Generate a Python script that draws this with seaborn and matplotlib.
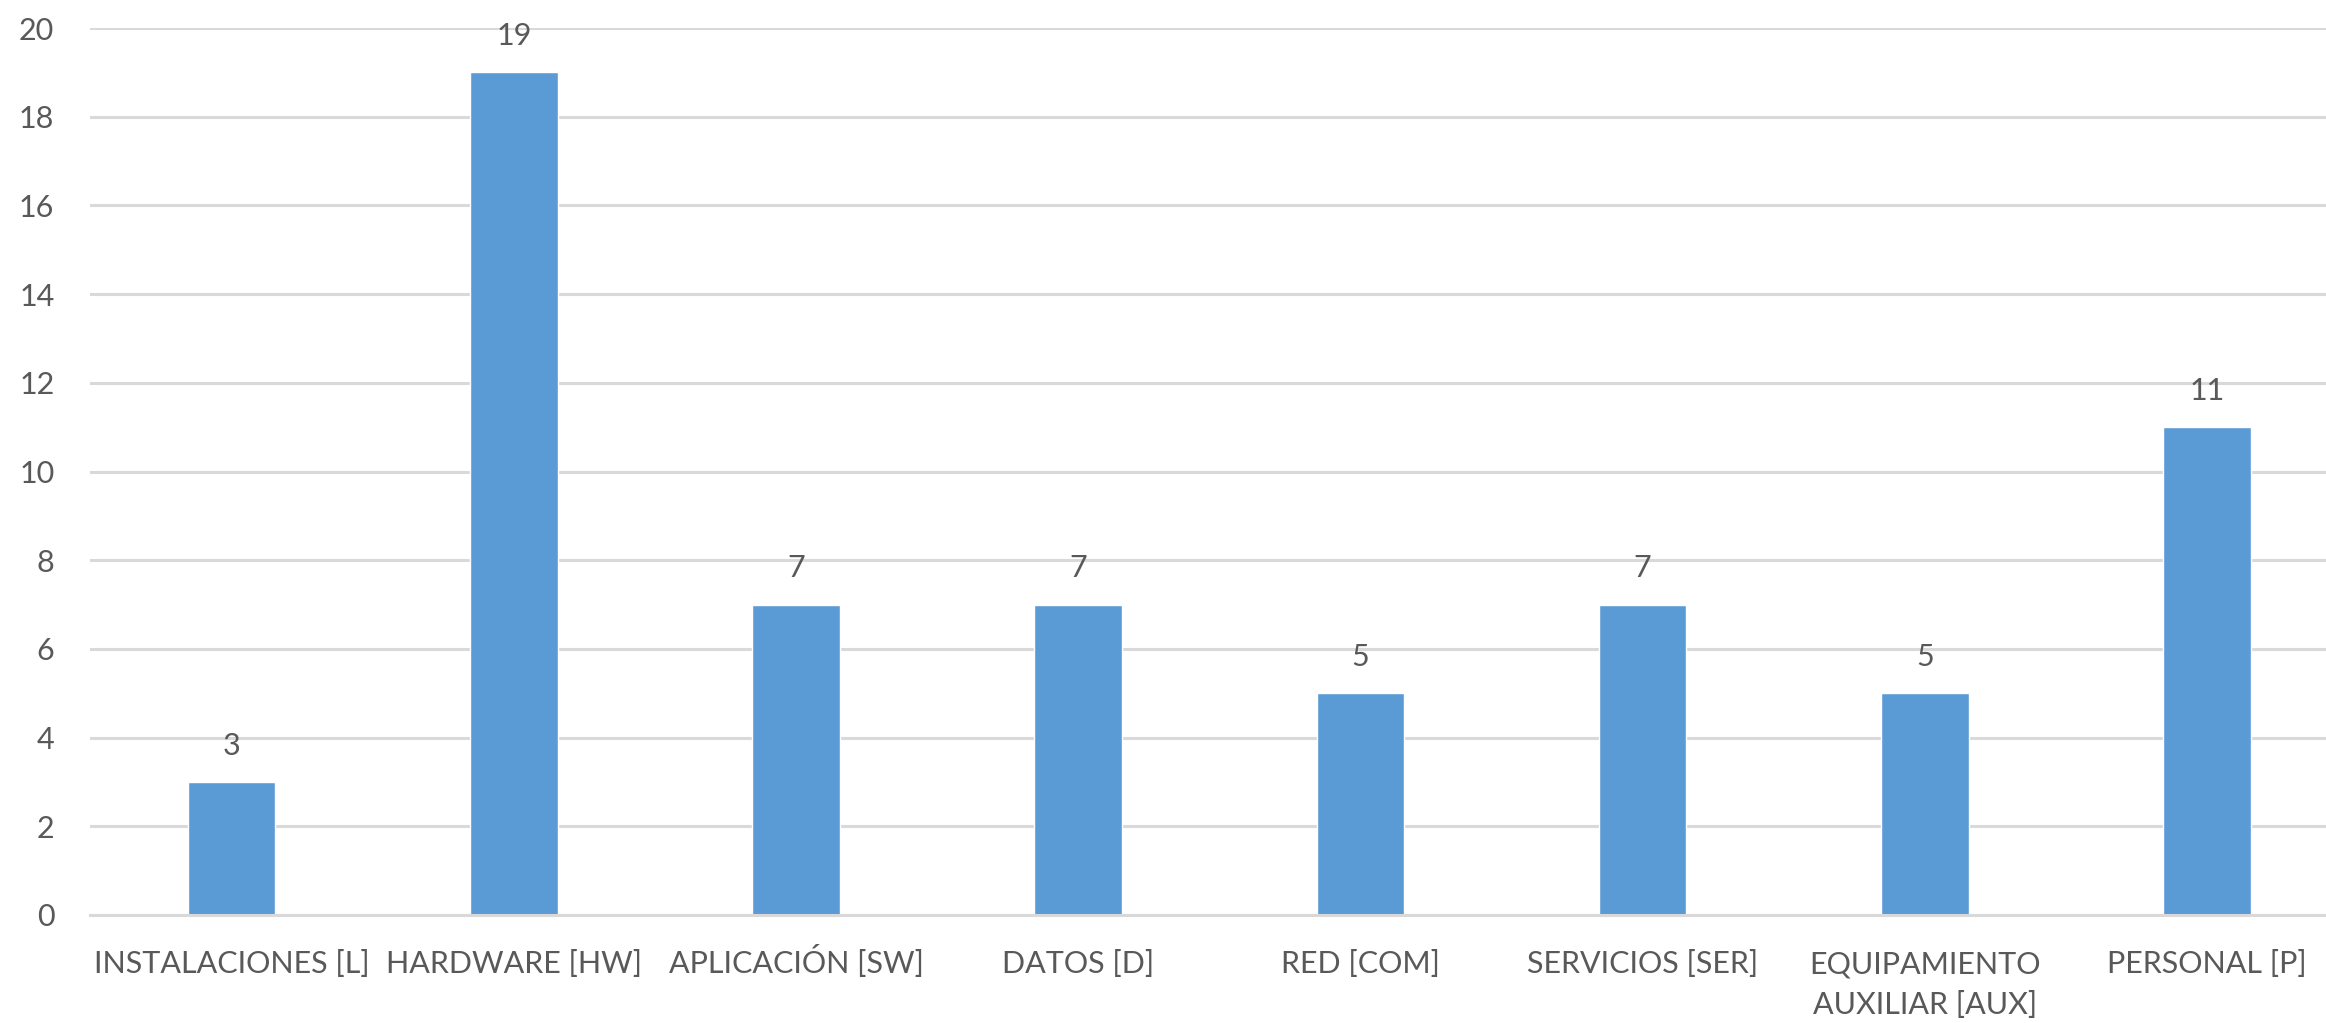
import matplotlib
matplotlib.use("Agg")
import matplotlib.pyplot as plt
import matplotlib.transforms as mtransforms
import seaborn as sns
import pandas as pd

categories = [
    "INSTALACIONES [L]",
    "HARDWARE [HW]",
    "APLICACIÓN [SW]",
    "DATOS [D]",
    "RED [COM]",
    "SERVICIOS [SER]",
    "EQUIPAMIENTO\nAUXILIAR [AUX]",
    "PERSONAL [P]",
]
counts = [3, 19, 7, 7, 5, 7, 5, 11]
y_ticks = [0, 2, 4, 6, 8, 10, 12, 14, 16, 18, 20]

sns.set_theme(style="white")
plt.rcParams["font.family"] = ["Lato", "DejaVu Sans"]

text_color = "#595959"
grid_color = "#D9D9D9"
bar_color = "#5B9BD5"
font_size = 22

df = pd.DataFrame({"categoria": categories, "cantidad": counts})

fig = plt.figure(figsize=(23.26, 10.23), dpi=100)
# plot area runs slightly past the right edge of the canvas
ax = fig.add_axes([0.0389, 0.1056, 0.9706, 0.867])

sns.barplot(data=df, x="categoria", y="cantidad", color=bar_color,
            saturation=1, width=0.31, ax=ax)

ax.set_ylim(0, 20)
ax.set_yticks(y_ticks)
ax.set_xlim(-0.5, len(categories) - 0.5)
ax.yaxis.grid(True, color=grid_color, linewidth=2.2)
ax.set_axisbelow(True)
for side in ["top", "right", "left"]:
    ax.spines[side].set_visible(False)
ax.spines["bottom"].set_color(grid_color)
ax.spines["bottom"].set_linewidth(2.2)

ax.set_xlabel("")
ax.set_ylabel("")
ax.tick_params(axis="both", length=0, labelsize=font_size, labelcolor=text_color)
ax.tick_params(axis="y", pad=26)
ax.tick_params(axis="x", pad=42)

xlabels = ax.get_xticklabels()
for lbl in xlabels:
    lbl.set_verticalalignment("baseline")
    lbl.set_linespacing(1.55)

for container in ax.containers:
    ax.bar_label(container, fmt="%d", padding=16, fontsize=font_size, color=text_color)

# wrapped category names: line their first row up with the single-row names
fig.canvas.draw()
renderer = fig.canvas.get_renderer()
ref_top = xlabels[3].get_window_extent(renderer).y1
for lbl in xlabels:
    if "\n" in lbl.get_text():
        shift_px = lbl.get_window_extent(renderer).y1 - ref_top
        offset = mtransforms.ScaledTranslation(0, -shift_px / fig.dpi, fig.dpi_scale_trans)
        lbl.set_transform(lbl.get_transform() + offset)

fig.savefig("out.png", dpi=100, facecolor="white")
